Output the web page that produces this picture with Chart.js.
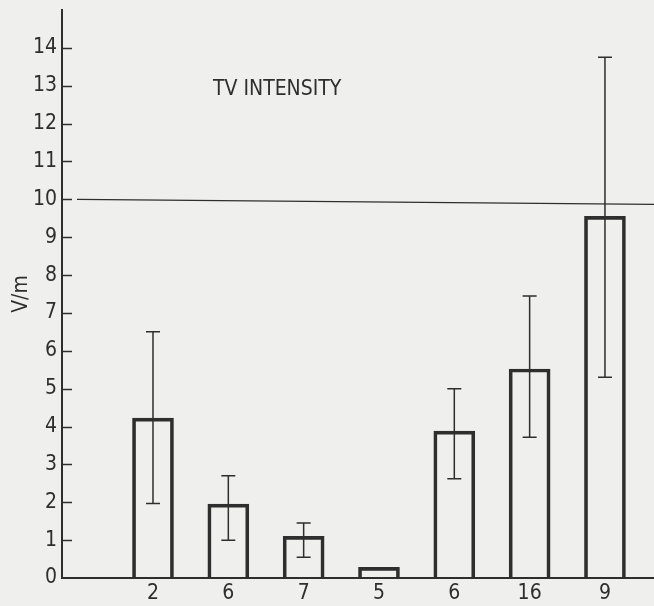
<!DOCTYPE html>
<html>
<head>
<meta charset="utf-8">
<script src="https://cdn.jsdelivr.net/npm/chart.js@4/dist/chart.umd.min.js"></script>
<style>
  html, body { margin: 0; padding: 0; background: #efefed; }
  #wrap { width: 654px; height: 606px; }
</style>
</head>
<body>
<div id="wrap"><canvas id="tvChart" width="654" height="606"></canvas></div>
<script>
(function () {
    // sample sizes shown under each bar
    var sampleSizes = ['2', '6', '7', '5', '6', '16', '9'];
    // mean field intensity, V/m
    var means = [4.22, 1.95, 1.1, 0.28, 3.88, 5.52, 9.55];
    var errLow = [1.97, 1.0, 0.55, null, 2.62, 3.72, 5.3];
    var errHigh = [6.5, 2.7, 1.45, null, 5.0, 7.45, 13.75];
    var yTicks = [0, 1, 2, 3, 4, 5, 6, 7, 8, 9, 10, 11, 12, 13, 14];
    var refLevel = 10;

    var ink = '#2e2e2e';
    var family = '"DejaVu Sans Condensed", "Liberation Sans", Arial, sans-serif';
    var font = { family: family, size: 21 };

    var points = means.map(function (m, i) { return { x: i, y: m }; });

    var decor = {
        id: 'decor',
        afterDatasetsDraw: function (chart) {
            var ctx = chart.ctx;
            var xs = chart.scales.x;
            var ys = chart.scales.y;
            var area = chart.chartArea;
            ctx.save();
            ctx.strokeStyle = ink;

            // inward tick marks
            ctx.lineWidth = 1.5;
            yTicks.forEach(function (t) {
                if (t === 0) return;
                var py = Math.round(ys.getPixelForValue(t)) + 0.5;
                ctx.beginPath();
                ctx.moveTo(area.left, py);
                ctx.lineTo(area.left + 10, py);
                ctx.stroke();
            });

            // 10 V/m reference line
            var ry = ys.getPixelForValue(refLevel);
            ctx.lineWidth = 1.2;
            ctx.beginPath();
            ctx.moveTo(area.left + 15, ry);
            ctx.lineTo(area.right, ry + 5);
            ctx.stroke();

            // error bars
            ctx.lineWidth = 1.5;
            means.forEach(function (m, i) {
                if (errLow[i] == null) return;
                var px = xs.getPixelForValue(i);
                var yl = ys.getPixelForValue(errLow[i]);
                var yh = ys.getPixelForValue(errHigh[i]);
                ctx.beginPath();
                ctx.moveTo(px, yl); ctx.lineTo(px, yh);
                ctx.moveTo(px - 7, yl); ctx.lineTo(px + 7, yl);
                ctx.moveTo(px - 7, yh); ctx.lineTo(px + 7, yh);
                ctx.stroke();
            });

            // inner title
            ctx.fillStyle = ink;
            ctx.font = '21px ' + family;
            ctx.textBaseline = 'middle';
            ctx.textAlign = 'left';
            ctx.fillText('TV INTENSITY', area.left + 151, area.top + 80);
            ctx.restore();
        }
    };

    new Chart(document.getElementById('tvChart').getContext('2d'), {
        type: 'bar',
        data: {
            datasets: [{
                data: points,
                backgroundColor: 'rgba(0,0,0,0)',
                borderColor: ink,
                borderWidth: 3,
                borderSkipped: 'bottom',
                barThickness: 41,
            }]
        },
        options: {
            responsive: false,
            animation: false,
            layout: { padding: { top: 10, right: 0, left: 0, bottom: 0 } },
            plugins: { legend: { display: false }, tooltip: { enabled: false } },
            scales: {
                x: {
                    type: 'linear',
                    offset: false,
                    min: -1.208,
                    max: 6.651,
                    grid: { drawOnChartArea: false, drawTicks: false, offset: false },
                    border: { display: true, color: ink, width: 2 },
                    afterBuildTicks: function (scale) {
                        scale.ticks = sampleSizes.map(function (s, i) { return { value: i }; });
                    },
                    afterFit: function (scale) {
                        scale.height = 28;
                        scale.paddingLeft = 0;
                        scale.paddingRight = 0;
                    },
                    ticks: {
                        color: ink,
                        font: font,
                        padding: 3,
                        maxRotation: 0,
                        autoSkip: false,
                        callback: function (v) { return sampleSizes[v]; },
                    },
                },
                y: {
                    min: 0,
                    max: 15,
                    grid: { drawOnChartArea: false, drawTicks: false },
                    border: { display: true, color: ink, width: 2 },
                    afterBuildTicks: function (scale) {
                        scale.ticks = yTicks.map(function (v) { return { value: v }; });
                    },
                    afterFit: function (scale) {
                        scale.width = 62;
                        scale.paddingTop = 0;
                        scale.paddingBottom = 0;
                    },
                    ticks: { color: ink, font: font, padding: 5 },
                    title: { display: true, text: 'V/m', color: ink, font: font, padding: { top: 9, bottom: 0 } },
                },
            },
        },
        plugins: [decor],
    });
})();
</script>
</body>
</html>
